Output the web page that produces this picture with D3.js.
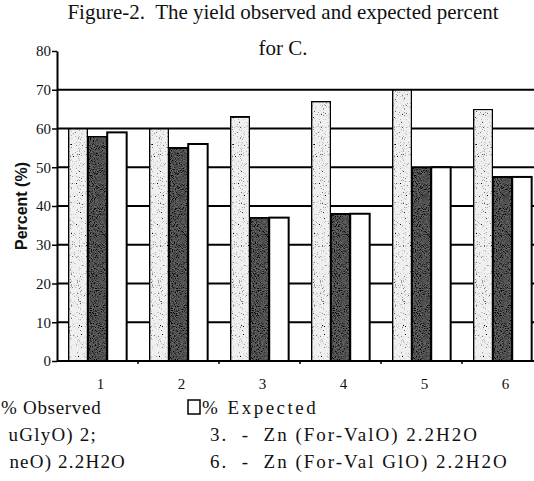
<!DOCTYPE html>
<html><head><meta charset="utf-8">
<script src="https://cdn.jsdelivr.net/npm/d3@7"></script>
<style>
html,body{margin:0;padding:0;background:#fff;overflow:hidden}
svg{display:block}
text{white-space:pre}
</style></head>
<body>
<svg id="chart" width="534" height="481"></svg>
<script>
// ---- data ----
const categories = ["1", "2", "3", "4", "5", "6"];
const seriesKeys = ["first", "observed", "expected"];
const firstSeries = [60, 60, 63, 67, 70, 65];
const observed = [58, 55, 37, 38, 50, 47.5];
const expected = [59, 56, 37, 38, 50, 47.5];
const yTicks = [0, 10, 20, 30, 40, 50, 60, 70, 80];
const gridValues = [10, 20, 30, 40, 50, 60, 70];
const titleLines = ["Figure-2.  The yield observed and expected percent", "for C."];
const yLabel = "Percent (%)";
const legendObserved = "% Observed";
const legendExpected = "% Expected";
const noteLeft = ["uGlyO) 2;", "neO) 2.2H2O"];
const noteRight = ["3.  -  Zn (For-ValO) 2.2H2O", "6.  -  Zn (For-Val GlO) 2.2H2O"];

const rows = categories.map((c, i) => ({cat: c, first: firstSeries[i], observed: observed[i], expected: expected[i]}));

const svg = d3.select("#chart");
const defs = svg.append("defs");

// speckle textures
function grain(id, freq, slope, offset, seed) {
  const f = defs.append("filter").attr("id", id).attr("x", 0).attr("y", 0).attr("width", 1).attr("height", 1);
  f.append("feTurbulence").attr("type", "fractalNoise").attr("baseFrequency", freq).attr("numOctaves", 2).attr("seed", seed).attr("result", "n");
  f.append("feColorMatrix").attr("in", "n").attr("type", "matrix")
    .attr("values", `0 0 0 0 0  0 0 0 0 0  0 0 0 0 0  ${slope} 0 0 0 ${offset}`).attr("result", "dots");
  f.append("feComposite").attr("in", "dots").attr("in2", "SourceGraphic").attr("operator", "in").attr("result", "dotsIn");
  const m = f.append("feMerge");
  m.append("feMergeNode").attr("in", "SourceGraphic");
  m.append("feMergeNode").attr("in", "dotsIn");
}
grain("grainLight", 0.9, 5, -3.0, 4);
grain("grainDark", 0.95, 3, -1.1, 7);

const x0 = d3.scaleBand().domain(categories).range([57, 543]).paddingInner(0.28).paddingOuter(0.14);
const x1 = d3.scaleBand().domain(seriesKeys).range([0, x0.bandwidth()]);
const y = d3.scaleLinear().domain([0, 80]).range([361, 51]);

const fills = {first: "#f0f0f0", observed: "#666666", expected: "#ffffff"};
const filters = {first: "url(#grainLight)", observed: "url(#grainDark)", expected: null};

// gridlines
svg.append("g").selectAll("line").data(gridValues).join("line")
  .attr("x1", 57).attr("x2", 540)
  .attr("y1", d => y(d)).attr("y2", d => y(d))
  .attr("stroke", "#000").attr("stroke-width", 2);

// bars
const groups = svg.append("g").selectAll("g").data(rows).join("g")
  .attr("transform", d => `translate(${x0(d.cat)},0)`);
groups.selectAll("rect").data(d => seriesKeys.map(k => ({key: k, value: d[k]}))).join("rect")
  .attr("x", d => x1(d.key)).attr("width", x1.bandwidth())
  .attr("y", d => y(d.value)).attr("height", d => y(0) - y(d.value))
  .attr("fill", d => fills[d.key])
  .attr("filter", d => filters[d.key])
  .attr("stroke", "#000").attr("stroke-width", 2);

// y axis
const yAxis = svg.append("g").attr("transform", "translate(57,0)")
  .call(d3.axisLeft(y).tickValues(yTicks).tickSize(5).tickSizeOuter(0).tickPadding(1));
yAxis.select(".domain").attr("stroke-width", 2);
yAxis.selectAll(".tick line").attr("stroke-width", 1.5);
yAxis.selectAll("text").attr("font-family", "'Liberation Serif', serif").attr("font-size", 15).attr("fill", "#111");

// x axis
const xAxis = svg.append("g").attr("transform", `translate(0,${y(0)})`)
  .call(d3.axisBottom(x0).tickSize(0).tickPadding(17));
xAxis.select(".domain").attr("d", `M57,0H540`).attr("stroke-width", 2);
xAxis.selectAll("text").attr("font-family", "'Liberation Serif', serif").attr("font-size", 15).attr("fill", "#111").attr("dx", 3);
// small ticks at band boundaries
svg.append("g").selectAll("line").data(categories.slice(1)).join("line")
  .attr("x1", d => x0(d) - x0.step() * x0.paddingInner() / 2)
  .attr("x2", d => x0(d) - x0.step() * x0.paddingInner() / 2)
  .attr("y1", y(0)).attr("y2", y(0) + 3)
  .attr("stroke", "#000").attr("stroke-width", 1.5);

// title
svg.append("g").selectAll("text").data(titleLines).join("text")
  .attr("x", 283).attr("y", (d, i) => i === 0 ? 19 : 55)
  .attr("text-anchor", "middle")
  .attr("font-family", "'Liberation Serif', serif").attr("font-size", 21).attr("fill", "#111")
  .text(d => d);

// y label
svg.append("text")
  .attr("transform", "translate(27,206) rotate(-90)")
  .attr("text-anchor", "middle")
  .attr("font-family", "'Liberation Sans', Arial, sans-serif").attr("font-weight", "bold")
  .attr("font-size", 16).attr("fill", "#111")
  .text(yLabel);

// legend
const serif = "'Liberation Serif', serif";
svg.append("text").attr("x", 1).attr("y", 414)
  .attr("font-family", serif).attr("font-size", 19).attr("letter-spacing", 0.7).attr("fill", "#111")
  .text(legendObserved);
svg.append("rect").attr("x", 188).attr("y", 400).attr("width", 12).attr("height", 14)
  .attr("fill", fills.expected).attr("stroke", "#000").attr("stroke-width", 1.5);
svg.append("text").attr("x", 202).attr("y", 414)
  .attr("font-family", serif).attr("font-size", 19).attr("letter-spacing", 2.5).attr("fill", "#111")
  .text(legendExpected);

svg.append("g").selectAll("text").data(noteLeft).join("text")
  .attr("x", (d, i) => i === 0 ? 97 : 126).attr("y", (d, i) => i === 0 ? 441 : 468)
  .attr("text-anchor", "end")
  .attr("font-family", serif).attr("font-size", 19).attr("letter-spacing", 1.2).attr("fill", "#111")
  .text(d => d);
svg.append("g").selectAll("text").data(noteRight).join("text")
  .attr("x", 210).attr("y", (d, i) => i === 0 ? 441 : 468)
  .attr("font-family", serif).attr("font-size", 19).attr("letter-spacing", 2.0).attr("fill", "#111")
  .text(d => d);
</script>
</body></html>
